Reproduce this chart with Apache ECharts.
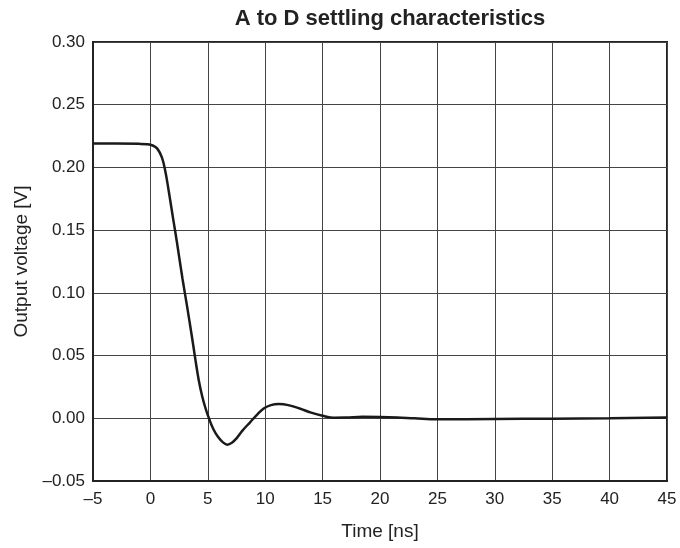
<!DOCTYPE html>
<html>
<head>
<meta charset="utf-8">
<script src="https://cdn.jsdelivr.net/npm/echarts@6.0.0/dist/echarts.min.js"></script>
<style>html,body{margin:0;padding:0;background:#fff}</style>
</head>
<body>
<div id="chart-root" style="width:680px;height:548px;"></div>
<script>
// time [ns] and output voltage [V]
const times = [-5, -3, -1, -0.3, 0.2, 0.6, 1.0, 1.3, 1.6, 2.0, 2.3, 2.8, 3.2, 3.6, 3.9, 4.2, 4.5, 4.8, 5.1,
  5.5, 5.9, 6.3, 6.7, 7.1, 7.5, 8.0, 8.7, 9.3, 9.9, 10.5, 11.2, 12, 13, 14, 15, 16, 17, 18.5, 20, 21.5,
  23, 25, 30, 35, 40, 45];
const volts = [0.219, 0.219, 0.2188, 0.2185, 0.2175, 0.215, 0.208, 0.197, 0.181, 0.158, 0.141, 0.111, 0.089,
  0.066, 0.048, 0.031, 0.018, 0.008, 0.0, -0.009, -0.015, -0.019, -0.021, -0.0195, -0.016, -0.010, -0.003,
  0.003, 0.008, 0.0105, 0.0113, 0.0105, 0.0078, 0.0045, 0.002, 0.0005, 0.0006, 0.0012, 0.0011, 0.0007,
  0.0, -0.0008, -0.0006, -0.0003, 0.0, 0.0006];

const FONT = '"Liberation Sans", Arial, sans-serif';
const dash = (s) => String(s).replace('-', '\u2013');

const chart = echarts.init(document.getElementById('chart-root'), null, { renderer: 'canvas' });
chart.setOption({
  animation: false,
  backgroundColor: '#fff',
  textStyle: { fontFamily: FONT, color: '#222' },
  title: {
    text: 'A to D settling characteristics',
    left: 385, top: 3, textAlign: 'center',
    textStyle: { fontFamily: FONT, fontSize: 22, fontWeight: 'bold', color: '#222' },
  },
  grid: { left: 93, right: 13, top: 42, bottom: 67, show: true, borderColor: '#222', borderWidth: 2 },
  xAxis: {
    type: 'value', min: -5, max: 45, interval: 5,
    name: 'Time [ns]', nameLocation: 'middle', nameGap: 41,
    nameTextStyle: { fontFamily: FONT, fontSize: 19, color: '#222' },
    axisLine: { onZero: false, lineStyle: { color: '#222', width: 2 } },
    axisTick: { show: false },
    axisLabel: { fontFamily: FONT, fontSize: 17, color: '#222', margin: 10, formatter: (v) => dash(v) },
    splitLine: { lineStyle: { color: '#444', width: 1 } },
  },
  yAxis: {
    type: 'value', min: -0.05, max: 0.30, interval: 0.05,
    name: 'Output voltage [V]', nameLocation: 'middle', nameGap: 62,
    nameTextStyle: { fontFamily: FONT, fontSize: 19, color: '#222' },
    axisLine: { onZero: false, lineStyle: { color: '#222', width: 2 } },
    axisTick: { show: false },
    axisLabel: { fontFamily: FONT, fontSize: 17, color: '#222', margin: 8, formatter: (v) => dash(v.toFixed(2)) },
    splitLine: { lineStyle: { color: '#444', width: 1 } },
  },
  series: [{
    type: 'line',
    data: times.map((t, i) => [t, volts[i]]),
    smooth: 0.4,
    showSymbol: false,
    lineStyle: { color: '#1a1a1a', width: 2.5 },
  }],
});
</script>
</body>
</html>
